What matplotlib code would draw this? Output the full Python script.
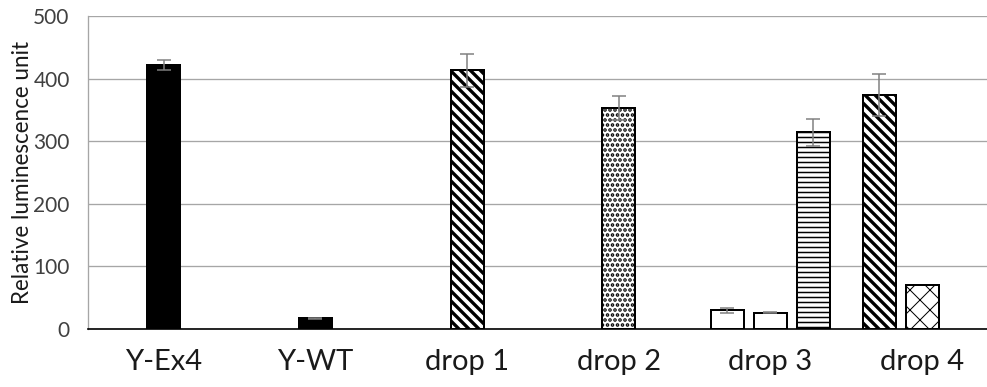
import matplotlib
matplotlib.use("Agg")
import matplotlib.pyplot as plt

# data
categories = ['Y-Ex4', 'Y-WT', 'drop 1', 'drop 2', 'drop 3', 'drop 4']
bar_group = [0, 1, 2, 3, 4, 4, 4, 5, 5]
bar_slot = [0, 0, 0, 0, -1, 0, 1, -1, 0]
values = [422, 17, 413, 353, 30, 26, 314, 374, 71]
errors = [8, 1, 26, 19, 4, 1, 21, 33, 0]
yticks = [0, 100, 200, 300, 400, 500]

# styles (one per bar)
BS = '\\'
fills = ['black', 'black', 'white', 'white', 'white', 'white', 'white', 'white', 'white']
hatches = [None, None, BS * 4, '....', None, None, '----', BS * 4, 'xx']
hatch_lw = [1, 1, 2.0, 1.5, 1, 1, 0.9, 2.0, 0.6]

DPI = 120
W, H = 988, 387
BAR_W = 0.218
SLOT = 0.283

plt.rcParams['font.family'] = ['Lato', 'DejaVu Sans']

fig = plt.figure(figsize=(W / DPI, H / DPI), dpi=DPI)
ax = fig.add_axes([88 / W, 58 / H, 1 - 88 / W, (387 - 16 - 58) / H])

for i in range(len(values)):
    x = bar_group[i] + bar_slot[i] * SLOT
    with plt.rc_context({'hatch.linewidth': hatch_lw[i], 'hatch.color': 'black'}):
        ax.bar(x, values[i], width=BAR_W, color=fills[i], edgecolor='black',
               linewidth=1.2, hatch=hatches[i], zorder=3)
    if errors[i] > 0:
        ax.errorbar(x, values[i], yerr=errors[i], fmt='none', ecolor='#7f7f7f',
                    elinewidth=0.9, capsize=4, capthick=0.9, zorder=4)

ax.set_xlim(-0.5, 5.435)
ax.set_ylim(0, 500)
ax.set_yticks(yticks)
ax.set_xticks(range(len(categories)))
ax.set_xticklabels(categories, fontsize=17.5, color='#1a1a1a')
ax.tick_params(axis='x', length=0, pad=12)
ax.tick_params(axis='y', length=0, pad=11, labelsize=12.5, labelcolor='#404040')
ax.yaxis.grid(True, color='#a6a6a6', linewidth=0.8, zorder=0)
ax.set_axisbelow(True)

for s in ['top', 'right']:
    ax.spines[s].set_visible(False)
ax.spines['left'].set_color('#a6a6a6')
ax.spines['left'].set_linewidth(0.8)
ax.spines['bottom'].set_color('black')
ax.spines['bottom'].set_linewidth(1.0)
ax.spines['bottom'].set_zorder(5)

ax.set_ylabel('Relative luminescence unit', fontsize=13.5, color='#1a1a1a')
ax.yaxis.set_label_coords((33 - 88) / (W - 88), 0.5)

fig.savefig('out.png', dpi=DPI)
